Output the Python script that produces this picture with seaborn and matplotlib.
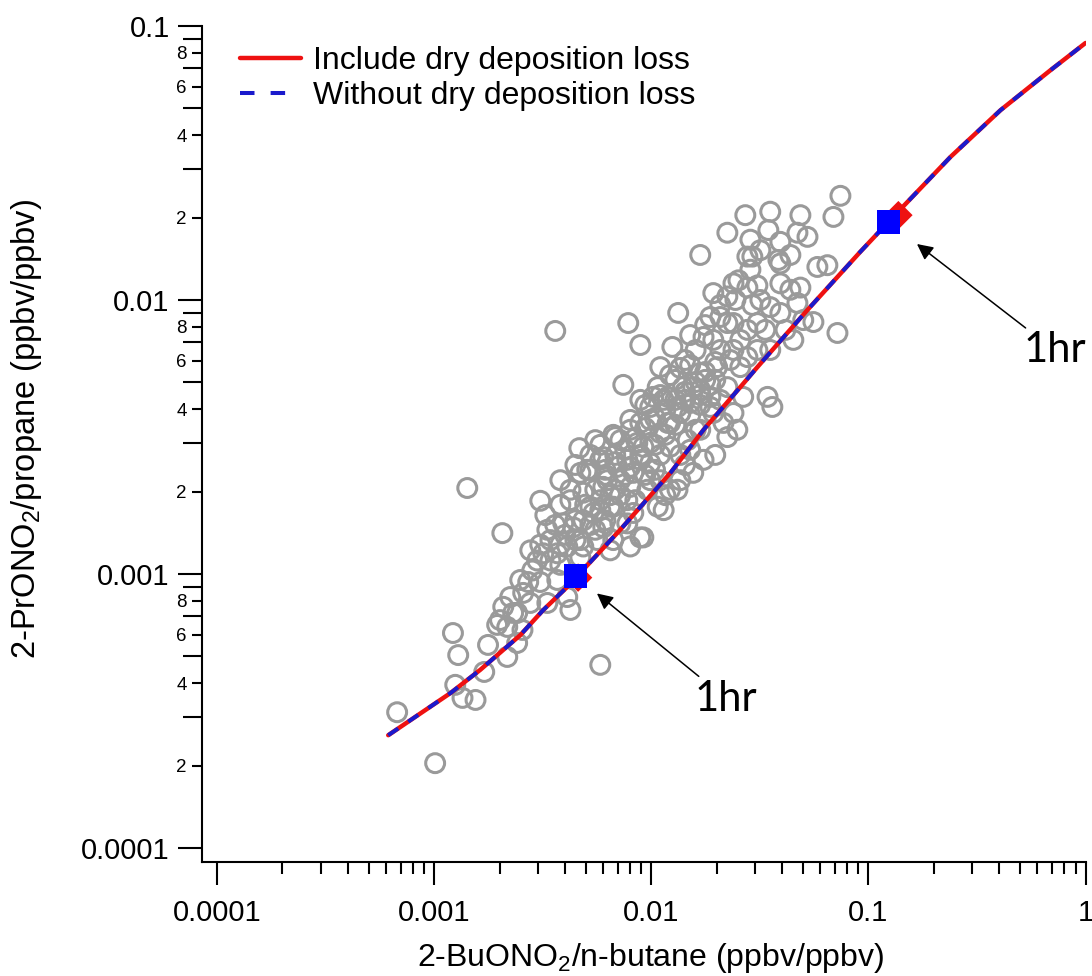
import numpy as np
import matplotlib
matplotlib.use("Agg")
import matplotlib.pyplot as plt
import seaborn as sns
from matplotlib.lines import Line2D
from matplotlib.ticker import FixedLocator, FixedFormatter, FuncFormatter

# ---- observed ratios: 2-BuONO2/n-butane (x) vs 2-PrONO2/propane (y) ----
bu_obs = [
    6.75e-4, 1.01e-3, 1.22e-3, 1.29e-3, 1.25e-3, 1.35e-3, 1.55e-3, 1.70e-3, 1.77e-3, 2.08e-3,
    1.95e-3, 2.17e-3, 2.17e-3, 2.41e-3, 2.55e-3, 2.31e-3, 2.57e-3, 2.83e-3, 3.08e-3, 3.32e-3,
    3.69e-3, 4.24e-3, 5.82e-3, 4.10e-3, 2.77e-3, 2.24e-3, 1.42e-3, 2.06e-3, 3.08e-3, 3.81e-3,
    4.66e-3, 7.43e-3, 6.68e-3, 3.43e-3, 2.98e-3, 3.69e-3, 2.71e-3, 2.01e-3, 2.41e-3, 6.47e-3,
    8.90e-3, 7.75e-3, 1.07e-2, 1.22e-2, 6.01e-3, 5.24e-3, 4.86e-3, 6.01e-3, 9.19e-3, 9.89e-3,
    1.14e-2, 1.40e-2, 1.36e-2, 4.71e-3, 3.93e-3, 3.32e-3, 4.86e-3, 3.61e-3, 7.83e-3, 8.90e-3,
    5.07e-3, 6.82e-3, 8.90e-3, 3.18e-3, 4.37e-3, 5.82e-3, 6.27e-3, 6.68e-3, 5.41e-3, 7.75e-3,
    8.00e-3, 4.86e-3, 6.68e-3, 8.26e-3, 1.02e-2, 1.07e-2, 1.32e-2, 1.19e-2, 1.68e-2, 1.93e-2,
    2.24e-2, 1.74e-2, 1.56e-2, 1.32e-2, 1.14e-2, 8.00e-3, 5.64e-3, 6.97e-3, 8.26e-3, 9.59e-3,
    7.75e-3, 6.47e-3, 4.10e-3, 4.71e-3, 7.20e-3, 9.89e-3, 1.22e-2, 1.47e-2, 1.68e-2, 2.08e-2,
    2.39e-2, 9.19e-3, 8.62e-3, 6.01e-3, 1.68e-2, 1.33e-2, 1.25e-2, 1.10e-2, 1.36e-2, 1.93e-2,
    2.39e-2, 1.87e-2, 1.74e-2, 2.24e-2, 2.77e-2, 2.77e-2, 2.24e-2, 2.39e-2, 2.77e-2, 1.68e-2,
    2.01e-2, 2.57e-2, 3.08e-2, 1.19e-2, 1.56e-2, 2.24e-2, 2.65e-2, 9.89e-3, 7.43e-2, 6.90e-2,
    2.24e-2, 2.71e-2, 3.53e-2, 4.86e-2, 2.86e-2, 3.46e-2, 3.93e-2, 4.71e-2, 5.24e-2, 2.92e-2,
    3.85e-2, 5.82e-2, 6.47e-2, 7.20e-2, 5.58e-2, 2.52e-2, 3.08e-2, 3.93e-2, 4.37e-2, 4.86e-2,
    2.92e-2, 3.53e-2, 2.08e-2, 2.39e-2, 1.93e-2, 3.08e-2, 3.93e-2, 4.71e-2, 4.51e-2, 3.53e-2,
    2.77e-2, 2.31e-2, 5.01e-2, 3.61e-2, 3.43e-2, 2.49e-2, 1.87e-2, 2.15e-2, 5.82e-3, 6.82e-3,
    7.59e-3, 8.90e-3, 1.04e-2, 1.16e-2, 1.29e-2, 1.51e-2, 1.68e-2, 1.87e-2, 9.38e-3, 1.04e-2,
    1.10e-2, 7.20e-3, 8.44e-3, 9.89e-3, 6.14e-3, 5.52e-3, 1.10e-2, 1.36e-2, 1.51e-2, 1.60e-2,
    1.43e-2, 1.97e-2, 1.77e-2, 1.51e-2, 1.29e-2, 8.90e-3, 5.52e-3, 5.24e-3, 4.47e-3, 4.24e-3,
    3.81e-3, 3.25e-3, 3.61e-3, 4.47e-3, 3.81e-3, 7.20e-3, 8.00e-3, 6.14e-3, 6.82e-3, 3.93e-2,
    4.01e-3, 4.47e-3, 4.96e-3, 5.52e-3, 6.14e-3, 6.82e-3, 7.59e-3, 8.44e-3, 9.38e-3, 1.04e-2,
    1.16e-2, 1.29e-2, 1.43e-2, 1.60e-2, 1.77e-2, 1.97e-2, 4.71e-3, 5.24e-3, 5.82e-3, 6.47e-3,
    7.20e-3, 8.00e-3, 8.90e-3, 9.89e-3, 1.10e-2, 1.22e-2, 1.36e-2, 1.51e-2, 1.68e-2, 1.87e-2,
    4.24e-3, 5.24e-3, 5.82e-3, 8.00e-3, 9.38e-3, 1.10e-2, 1.22e-2, 1.43e-2, 1.60e-2, 1.51e-2,
    1.77e-2, 2.08e-2, 2.44e-2, 3.18e-2, 3.35e-2, 4.15e-2, 2.57e-2, 2.08e-2, 2.86e-2, 4.37e-2,
    3.18e-2, 3.08e-3, 3.43e-3, 2.77e-3, 2.49e-3, 3.81e-3, 1.97e-2, 1.36e-2, 1.16e-2, 1.43e-2,
]
pr_obs = [
    3.13e-4, 2.04e-4, 6.09e-4, 5.06e-4, 3.94e-4, 3.53e-4, 3.47e-4, 4.39e-4, 5.51e-4, 7.59e-4,
    6.52e-4, 6.41e-4, 4.98e-4, 5.60e-4, 6.25e-4, 7.21e-4, 8.53e-4, 1.03e-3, 9.35e-4, 7.84e-4,
    9.51e-4, 7.39e-4, 4.66e-4, 8.24e-4, 7.84e-4, 8.24e-4, 2.06e-3, 1.41e-3, 1.85e-3, 2.20e-3,
    2.88e-3, 4.90e-3, 3.22e-3, 1.33e-3, 1.12e-3, 1.19e-3, 9.35e-4, 6.79e-4, 7.21e-4, 1.22e-3,
    1.36e-3, 1.53e-3, 1.76e-3, 2.03e-3, 1.48e-3, 1.76e-3, 1.98e-3, 2.08e-3, 2.91e-3, 3.65e-3,
    4.32e-3, 4.81e-3, 3.87e-3, 2.34e-3, 1.53e-3, 1.45e-3, 1.57e-3, 7.71e-3, 8.24e-3, 6.85e-3,
    2.40e-3, 3.16e-3, 3.56e-3, 1.19e-3, 1.48e-3, 2.61e-3, 2.20e-3, 1.76e-3, 1.67e-3, 2.61e-3,
    2.08e-3, 1.26e-3, 1.33e-3, 1.67e-3, 4.43e-3, 4.81e-3, 4.07e-3, 3.56e-3, 4.70e-3, 3.87e-3,
    3.16e-3, 2.61e-3, 2.34e-3, 2.03e-3, 1.71e-3, 1.26e-3, 1.33e-3, 2.46e-3, 2.34e-3, 2.03e-3,
    1.86e-3, 1.76e-3, 1.26e-3, 1.15e-3, 1.53e-3, 2.54e-3, 2.91e-3, 3.08e-3, 3.36e-3, 4.32e-3,
    3.87e-3, 1.36e-3, 3.01e-3, 2.67e-3, 1.46e-2, 8.97e-3, 6.74e-3, 5.69e-3, 5.65e-3, 1.06e-2,
    1.15e-2, 8.67e-3, 7.33e-3, 8.24e-3, 1.11e-2, 1.44e-2, 1.03e-2, 6.57e-3, 7.78e-3, 5.42e-3,
    5.69e-3, 5.69e-3, 6.57e-3, 4.43e-3, 4.81e-3, 4.81e-3, 4.43e-3, 4.07e-3, 2.40e-2, 2.01e-2,
    1.76e-2, 2.04e-2, 2.10e-2, 2.04e-2, 1.66e-2, 1.80e-2, 1.63e-2, 1.76e-2, 1.70e-2, 1.44e-2,
    1.40e-2, 1.32e-2, 1.34e-2, 7.58e-3, 8.31e-3, 1.18e-2, 1.13e-2, 1.15e-2, 1.09e-2, 1.11e-2,
    9.59e-3, 9.42e-3, 8.67e-3, 8.24e-3, 7.15e-3, 8.24e-3, 8.97e-3, 9.75e-3, 7.15e-3, 6.57e-3,
    6.19e-3, 6.04e-3, 8.45e-3, 4.07e-3, 4.43e-3, 3.36e-3, 4.07e-3, 3.56e-3, 1.86e-3, 2.03e-3,
    2.30e-3, 2.61e-3, 2.96e-3, 3.22e-3, 3.50e-3, 3.80e-3, 4.14e-3, 4.43e-3, 2.30e-3, 2.40e-3,
    2.72e-3, 1.94e-3, 1.86e-3, 2.20e-3, 1.57e-3, 1.45e-3, 2.20e-3, 2.72e-3, 2.84e-3, 3.36e-3,
    4.32e-3, 5.11e-3, 5.11e-3, 5.79e-3, 5.11e-3, 4.32e-3, 3.08e-3, 2.72e-3, 2.50e-3, 1.86e-3,
    1.79e-3, 1.64e-3, 1.51e-3, 1.33e-3, 1.08e-3, 3.08e-3, 3.36e-3, 2.40e-3, 2.72e-3, 1.36e-2,
    1.39e-3, 1.57e-3, 1.79e-3, 2.03e-3, 2.30e-3, 2.56e-3, 2.84e-3, 3.13e-3, 3.41e-3, 3.71e-3,
    3.97e-3, 4.32e-3, 4.62e-3, 5.02e-3, 5.46e-3, 5.94e-3, 1.33e-3, 1.51e-3, 1.71e-3, 1.94e-3,
    2.20e-3, 2.46e-3, 2.72e-3, 3.01e-3, 3.27e-3, 3.56e-3, 3.87e-3, 4.21e-3, 4.50e-3, 4.90e-3,
    2.03e-3, 2.40e-3, 2.96e-3, 3.65e-3, 4.14e-3, 4.50e-3, 5.32e-3, 6.04e-3, 6.57e-3, 7.45e-3,
    8.10e-3, 9.59e-3, 1.00e-2, 1.00e-2, 7.78e-3, 7.78e-3, 7.15e-3, 6.57e-3, 1.29e-2, 1.46e-2,
    1.52e-2, 1.28e-3, 1.12e-3, 1.22e-3, 9.51e-4, 1.28e-3, 2.72e-3, 2.20e-3, 1.94e-3, 2.50e-3,
]

# ---- box-model trajectories ----
model_bu = [6.14e-4, 1.19e-3, 1.63e-3, 2.49e-3, 3.18e-3, 4.10e-3, 7.19e-3, 1.225e-2, 1.74e-2,
            2.57e-2, 3.08e-2, 5.24e-2, 9.18e-2, 0.130, 0.239, 0.406, 0.690, 1.0]
model_pr_dep = [2.58e-4, 3.68e-4, 4.47e-4, 5.98e-4, 7.39e-4, 8.97e-4, 1.45e-3, 2.34e-3, 3.36e-3,
                4.81e-3, 5.69e-3, 9.20e-3, 1.50e-2, 2.01e-2, 3.33e-2, 4.93e-2, 6.90e-2, 8.67e-2]
model_pr_nodep = [2.58e-4, 3.68e-4, 4.47e-4, 5.98e-4, 7.39e-4, 8.97e-4, 1.45e-3, 2.34e-3, 3.36e-3,
                  4.81e-3, 5.69e-3, 9.20e-3, 1.50e-2, 2.01e-2, 3.33e-2, 4.93e-2, 6.90e-2, 8.67e-2]

# ---- 1-hour points of each run ----
hr_bu_dep = [4.60e-3, 0.1374]
hr_pr_dep = [9.70e-4, 0.0204]
hr_bu_nodep = [4.47e-3, 0.1236]
hr_pr_nodep = [9.84e-4, 0.01927]
hr_text = ["1hr", "1hr"]

series_labels = ["Include dry deposition loss", "Without dry deposition loss"]
x_label = "2-BuONO$_2$/n-butane (ppbv/ppbv)"
y_label = "2-PrONO$_2$/propane (ppbv/ppbv)"

x_major = [1e-4, 1e-3, 1e-2, 1e-1, 1.0]
x_major_labels = ["0.0001", "0.001", "0.01", "0.1", "1"]
y_major = [1e-4, 1e-3, 1e-2, 1e-1]
y_major_labels = ["0.0001", "0.001", "0.01", "0.1"]
minor_subs = [2, 3, 4, 5, 6, 7, 8, 9]
y_minor_labelled = [2, 4, 6, 8]

RED = "#ee1111"
BLUE = "#1a1acc"
GREY = "#9a9a9a"

sns.set_theme(style="ticks")
plt.rcParams["font.family"] = ["Liberation Sans", "DejaVu Sans"]
plt.rcParams["mathtext.fontset"] = "custom"
plt.rcParams["mathtext.rm"] = "Liberation Sans"
plt.rcParams["mathtext.it"] = "Liberation Sans:italic"
plt.rcParams["mathtext.default"] = "regular"
for key in ("text.color", "axes.labelcolor", "xtick.color", "ytick.color", "axes.edgecolor"):
    plt.rcParams[key] = "black"

fig = plt.figure(figsize=(10.92, 9.76), dpi=100)
ax = fig.add_axes([0.18498, 0.11680, 0.80952, 0.85656])
ax.set_xscale("log")
ax.set_yscale("log")

sns.scatterplot(x=bu_obs, y=pr_obs, ax=ax, marker="o", s=185, facecolors="none",
                edgecolors=GREY, linewidth=2.2, zorder=2)

sns.lineplot(x=model_bu, y=model_pr_dep, ax=ax, color=RED, linewidth=3.2,
             estimator=None, sort=False, zorder=3)
sns.lineplot(x=model_bu, y=model_pr_nodep, ax=ax, color=BLUE, linewidth=2.9,
             linestyle=(0, (3, 3)), estimator=None, sort=False, zorder=4)

sns.scatterplot(x=hr_bu_dep, y=hr_pr_dep, ax=ax, marker="D", s=210, color=RED,
                edgecolor="none", zorder=5)
sns.scatterplot(x=hr_bu_nodep, y=hr_pr_nodep, ax=ax, marker="s", s=290, color="#0000ff",
                edgecolor="none", zorder=6)

# annotations pointing at the 1-hour points
offsets = [(86, -97), (97, -101)]
shrinks = [20, 26]
for bx, by, txt, off, shr in zip(hr_bu_nodep, hr_pr_nodep, hr_text, offsets, shrinks):
    ax.annotate(txt, xy=(bx, by), xytext=off, textcoords="offset points",
                ha="left", va="baseline", fontsize=30, family=["Lato", "DejaVu Sans"],
                color="black", annotation_clip=False,
                arrowprops=dict(arrowstyle="-|>", color="black", lw=1.1,
                                mutation_scale=24, shrinkA=0, shrinkB=shr))

# axes limits and ticks
ax.set_xlim(8.52e-5, 1.005)
ax.set_ylim(8.89e-5, 0.1)

ax.xaxis.set_major_locator(FixedLocator(x_major))
ax.xaxis.set_major_formatter(FixedFormatter(x_major_labels))
x_minor = [m * d for d in x_major[:-1] for m in minor_subs]
ax.xaxis.set_minor_locator(FixedLocator(x_minor))
ax.xaxis.set_minor_formatter(FuncFormatter(lambda v, p: ""))

ax.yaxis.set_major_locator(FixedLocator(y_major))
ax.yaxis.set_major_formatter(FixedFormatter(y_major_labels))
y_minor = [m * d for d in y_major[:-1] for m in minor_subs]
ax.yaxis.set_minor_locator(FixedLocator(y_minor))


def _mantissa(v):
    return int(round(v / 10 ** np.floor(np.log10(v) + 1e-9)))


ax.yaxis.set_minor_formatter(
    FuncFormatter(lambda v, p: str(_mantissa(v)) if _mantissa(v) in y_minor_labelled else ""))

sns.despine(ax=ax)
for side in ("left", "bottom"):
    ax.spines[side].set_linewidth(1.5)
    ax.spines[side].set_color("black")

ax.tick_params(axis="x", which="major", length=16.5, width=1.5, pad=10,
               labelsize=21, direction="out", color="black")
ax.tick_params(axis="x", which="minor", length=8.6, width=1.5, direction="out", color="black")
ax.tick_params(axis="y", which="major", length=17.3, width=1.5, pad=6,
               labelsize=21, direction="out", color="black")
ax.tick_params(axis="y", which="minor", length=7.5, width=1.5, pad=3.5,
               labelsize=13.5, direction="out", color="black")

ax.set_xlabel(x_label, fontsize=23)
ax.set_ylabel(y_label, fontsize=23.5)
ax.xaxis.set_label_coords(0.507, -0.115)
ax.yaxis.set_label_coords(-0.198, 0.518)
ax.xaxis.label.set_va("center")
ax.yaxis.label.set_va("center")

legend_handles = [
    Line2D([], [], color=RED, linewidth=3.2),
    Line2D([], [], color=BLUE, linewidth=2.9, linestyle=(0, (3.6, 4.0))),
]
ax.legend(legend_handles, series_labels, loc="upper left", bbox_to_anchor=(0.043, 0.976),
          frameon=False, fontsize=23, handlelength=1.9, handletextpad=0.4,
          labelspacing=0.15, borderaxespad=0, borderpad=0)

# unlabelled minor ticks on the y axis are drawn longer
locs = ax.yaxis.get_minorticklocs()
for tick, loc in zip(ax.yaxis.get_minor_ticks(len(locs)), locs):
    if _mantissa(loc) not in y_minor_labelled:
        tick.tick1line.set_markersize(13.7)

fig.savefig("out.png", dpi=100)
